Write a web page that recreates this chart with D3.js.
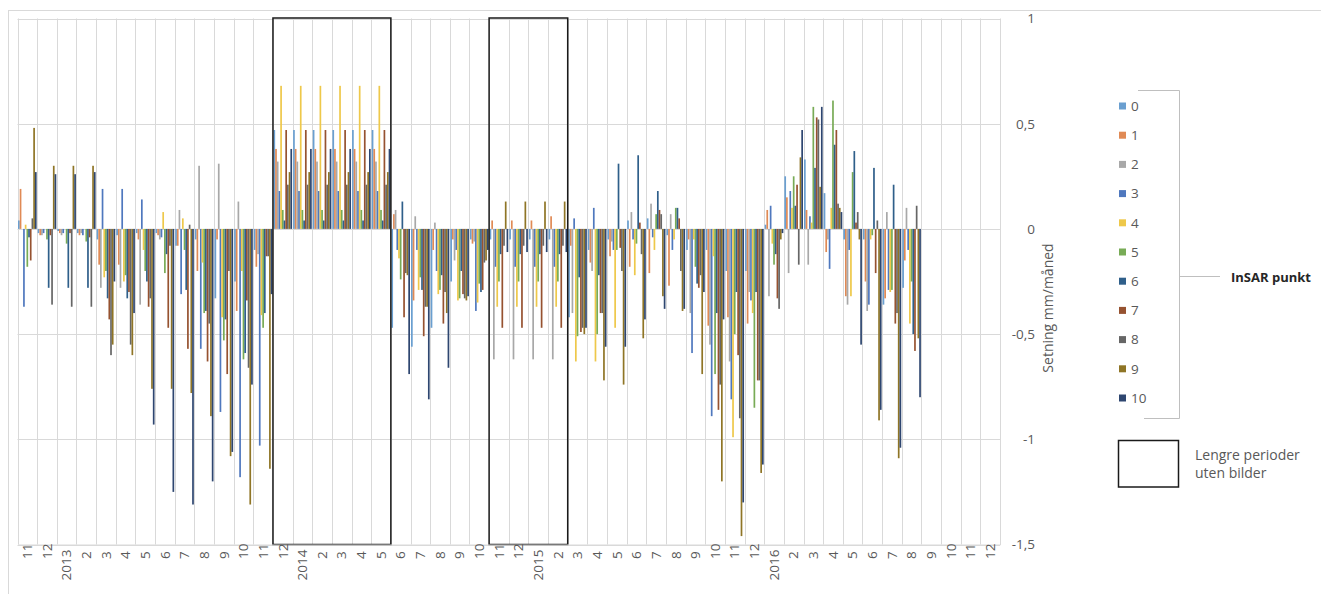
<!DOCTYPE html>
<html>
<head>
<meta charset="utf-8">
<script src="https://d3js.org/d3.v7.min.js"></script>
<style>
  body { margin: 0; background: #fff; }
  svg { font-family: "Open Sans", "Liberation Sans", sans-serif; }
</style>
</head>
<body>
<svg id="chart" width="1321" height="594"></svg>
<script>
// month labels along the bottom (Nov 2012 - Dec 2016)
const monthLabels = ["11","12","2013","2","3","4","5","6","7","8","9","10",
  "11","12","2014","2","3","4","5","6","7","8","9","10",
  "11","12","2015","2","3","4","5","6","7","8","9","10",
  "11","12","2016","2","3","4","5","6","7","8","9","10","11","12"];

// setning mm/måned per InSAR punkt
const p0 = [0.04,-0.02,-0.01,-0.02,-0.05,-0.03,-0.02,-0.02,-0.08,-0.05,
  -0.33,-0.25,-0.10,0.47,0.47,0.47,0.47,0.47,0.47,-0.47,
  -0.56,-0.47,-0.25,-0.05,-0.05,-0.05,-0.05,-0.05,-0.42,-0.10,
  -0.05,0.04,0.05,-0.03,-0.10,-0.10,-0.20,-0.20,0.02,0.25,
  0.33,0.17,-0.05,-0.05,-0.36,-0.28,null,null,null,null];
const p1 = [0.19,-0.03,-0.02,-0.03,-0.17,-0.17,-0.05,-0.03,-0.08,-0.20,
  -0.05,-0.39,-0.18,0.38,0.38,0.38,0.38,0.38,0.38,0.07,
  -0.34,-0.10,-0.05,-0.07,0.04,0.04,0.04,0.06,-0.08,-0.16,
  -0.13,-0.18,-0.21,-0.27,-0.05,-0.46,-0.42,-0.45,0.09,0.15,
  0.09,-0.11,-0.32,-0.25,-0.33,-0.15,null,null,null,null];
const p2 = [0.00,-0.03,-0.03,-0.02,-0.28,-0.28,-0.36,-0.05,0.09,0.30,
  0.31,0.13,-0.12,0.32,0.32,0.32,0.32,0.32,0.32,0.09,
  0.06,0.03,-0.15,-0.06,-0.62,-0.62,-0.62,-0.62,-0.40,-0.20,
  -0.06,0.08,0.12,0.07,-0.40,-0.55,-0.63,-0.30,-0.32,-0.21,
  -0.17,-0.05,-0.36,-0.39,0.08,0.10,null,null,null,null];
const p3 = [-0.37,-0.02,-0.02,-0.03,0.19,0.19,0.14,-0.04,-0.31,-0.57,
  -0.87,-1.18,-1.03,0.18,0.18,0.18,0.18,0.18,0.18,-0.10,
  -0.10,-0.20,-0.10,-0.39,-0.18,-0.18,-0.18,-0.18,0.05,0.10,
  -0.10,-0.05,-0.04,-0.10,-0.59,-0.89,-0.81,-0.34,0.11,0.18,
  0.06,-0.19,-0.10,-0.36,-0.29,-0.10,null,null,null,null];
const p4 = [0.02,0.00,0.00,0.00,-0.23,-0.25,-0.10,0.08,0.05,-0.16,
  -0.42,-0.20,-0.41,0.68,0.68,0.68,0.68,0.68,0.68,-0.14,
  -0.29,-0.31,-0.34,-0.35,-0.37,-0.37,-0.37,-0.37,-0.63,-0.63,
  -0.47,-0.22,-0.10,-0.05,-0.05,-0.13,-0.99,-0.40,-0.07,0.10,
  0.03,0.10,-0.32,-0.05,-0.30,-0.45,null,null,null,null];
const p5 = [-0.18,-0.05,-0.07,-0.06,-0.20,-0.22,-0.20,-0.21,-0.10,-0.40,
  -0.53,-0.62,-0.47,0.09,0.09,0.09,0.09,0.09,0.09,-0.24,
  -0.23,-0.29,-0.33,-0.26,-0.25,-0.25,-0.25,-0.25,-0.51,-0.50,
  -0.10,-0.07,0.07,0.10,-0.18,-0.69,-0.50,-0.85,-0.17,0.25,
  0.58,0.61,0.27,-0.03,-0.29,-0.25,null,null,null,null];
const p6 = [-0.04,-0.28,-0.28,-0.28,-0.33,-0.33,-0.25,-0.12,-0.29,-0.39,
  -0.43,-0.59,-0.40,0.04,0.04,0.04,0.04,0.04,0.04,0.13,
  -0.29,-0.22,-0.20,-0.30,-0.12,-0.12,-0.12,-0.12,-0.23,-0.22,
  0.31,0.35,0.18,0.10,-0.26,-0.40,-0.30,-0.30,-0.12,0.11,
  0.29,0.40,0.37,0.29,0.21,-0.50,null,null,null,null];
const p7 = [-0.15,-0.03,-0.02,-0.04,-0.43,-0.30,-0.37,-0.47,-0.57,-0.63,
  -0.69,-0.34,-0.13,0.47,0.47,0.47,0.47,0.47,0.47,-0.42,
  -0.51,-0.45,-0.31,-0.29,-0.47,-0.47,-0.47,-0.47,-0.49,-0.40,
  -0.09,0.03,0.09,0.05,-0.28,-0.86,-0.60,-0.72,-0.33,0.21,
  0.53,0.47,0.03,-0.21,-0.45,-0.58,null,null,null,null];
const p8 = [0.05,-0.36,-0.37,-0.37,-0.60,-0.55,-0.33,-0.08,0.02,-0.45,
  -0.20,-0.66,-0.13,0.21,0.21,0.21,0.21,0.21,0.21,-0.21,
  -0.37,-0.30,-0.33,-0.16,-0.08,-0.08,-0.08,-0.08,-0.47,-0.40,
  -0.20,-0.12,0.07,-0.20,-0.22,-0.74,-0.90,-0.72,-0.38,-0.17,
  0.52,0.12,0.08,0.04,-0.40,0.11,null,null,null,null];
const p9 = [0.48,0.30,0.30,0.30,-0.55,-0.60,-0.76,-0.76,-0.78,-0.89,
  -1.08,-1.31,-1.14,0.27,0.27,0.27,0.27,0.27,0.27,-0.22,
  -0.37,-0.40,-0.34,-0.15,0.13,0.13,0.13,0.13,-0.50,-0.72,
  -0.74,-0.52,-0.32,-0.39,-0.69,-1.20,-1.46,-1.16,-0.05,0.34,
  0.20,0.10,-0.05,-0.91,-1.09,-0.52,null,null,null,null];
const p10 = [0.27,0.26,0.26,0.27,-0.25,-0.40,-0.93,-1.25,-1.31,-1.20,
  -1.06,-0.74,-0.31,0.38,0.38,0.38,0.38,0.38,0.38,-0.69,
  -0.81,-0.66,-0.32,-0.10,-0.11,-0.11,-0.11,-0.11,-0.47,-0.56,
  -0.56,-0.43,-0.38,-0.38,-0.30,-0.43,-1.30,-1.12,-0.02,0.47,
  0.58,0.08,-0.55,-0.86,-1.04,-0.80,null,null,null,null];

const seriesNames = ["0","1","2","3","4","5","6","7","8","9","10"];
const seriesColors = ["#6a9fd0","#e08a55","#a8a8a8","#4f78be","#eec84a","#78ab56",
  "#2f5f8a","#965230","#666666","#8f7526","#2e4670"];
const yTicks = [1, 0.5, 0, -0.5, -1, -1.5];
// periods without images: [first month index, month index after the period]
const gapPeriods = [[13, 19], [24, 28]];

const series = [p0,p1,p2,p3,p4,p5,p6,p7,p8,p9,p10];
const textColor = "#595959";
const gridColor = "#d9d9d9";

const svg = d3.select("#chart");

// chart frame
svg.append("rect")
  .attr("x", 8.5).attr("y", 10.5)
  .attr("width", 1330).attr("height", 600)
  .attr("fill", "none").attr("stroke", gridColor);

const plot = { left: 17.5, right: 1000, top: 18.5, bottom: 544.5 };

const x = d3.scaleBand()
  .domain(d3.range(monthLabels.length))
  .range([plot.left, plot.right])
  .padding(0);

const xInner = d3.scaleBand()
  .domain(d3.range(series.length))
  .range([0, x.bandwidth()])
  .paddingInner(0)
  .paddingOuter(0.3);

const y = d3.scaleLinear()
  .domain([-1.5, 1])
  .range([plot.bottom, plot.top]);

// gridlines
const grid = svg.append("g");
grid.selectAll("line.h")
  .data(yTicks)
  .enter().append("line")
  .attr("x1", plot.left).attr("x2", plot.right)
  .attr("y1", d => Math.round(y(d)) + 0.5).attr("y2", d => Math.round(y(d)) + 0.5)
  .attr("stroke", gridColor);

grid.selectAll("line.v")
  .data(d3.range(monthLabels.length + 1))
  .enter().append("line")
  .attr("x1", i => Math.round(i < monthLabels.length ? x(i) : plot.right) + 0.5)
  .attr("x2", i => Math.round(i < monthLabels.length ? x(i) : plot.right) + 0.5)
  .attr("y1", plot.top).attr("y2", plot.bottom)
  .attr("stroke", gridColor);

// bars
const barGroups = svg.append("g")
  .selectAll("g")
  .data(series)
  .enter().append("g")
  .attr("fill", (d, s) => seriesColors[s]);

barGroups.selectAll("rect")
  .data((d, s) => d.map((v, i) => ({ v, i, s })).filter(e => e.v !== null))
  .enter().append("rect")
  .attr("x", e => x(e.i) + xInner(e.s))
  .attr("width", xInner.bandwidth())
  .attr("y", e => y(Math.max(0, e.v)))
  .attr("height", e => Math.abs(y(e.v) - y(0)));

// boxes marking long periods without images
svg.append("g")
  .selectAll("rect")
  .data(gapPeriods)
  .enter().append("rect")
  .attr("x", d => x(d[0]))
  .attr("y", plot.top - 0.5)
  .attr("width", d => x(d[1]) - x(d[0]))
  .attr("height", plot.bottom - plot.top + 0.5)
  .attr("fill", "none")
  .attr("stroke", "#1a1a1a")
  .attr("stroke-width", 1.5);

// y axis on the right
const yAxis = svg.append("g")
  .attr("transform", `translate(${plot.right},0)`)
  .call(d3.axisRight(y).tickValues(yTicks).tickSize(0)
    .tickFormat(d => String(d).replace(".", ",")));
yAxis.select(".domain").attr("stroke", gridColor);
yAxis.selectAll("text")
  .attr("x", 35)
  .attr("text-anchor", "end")
  .attr("fill", textColor)
  .style("font-size", "13.5px")
  .style("font-family", "'Open Sans', 'Liberation Sans', sans-serif");

svg.append("text")
  .attr("transform", "translate(1053,308) rotate(-90)")
  .attr("text-anchor", "middle")
  .attr("fill", textColor)
  .style("font-size", "14px")
  .text("Setning mm/måned");

// x axis month labels
const xAxis = svg.append("g")
  .attr("transform", `translate(0,${plot.bottom})`)
  .call(d3.axisBottom(x).tickSize(0).tickFormat(i => monthLabels[i]));
xAxis.select(".domain").attr("stroke", gridColor);
xAxis.selectAll("text")
  .attr("transform", "rotate(-90)")
  .attr("text-anchor", "start")
  .attr("y", 0)
  .attr("dy", "0.35em")
  .attr("x", i => monthLabels[i].length === 4 ? -36 : -14.5)
  .attr("fill", textColor)
  .style("font-size", "13.5px")
  .style("font-family", "'Open Sans', 'Liberation Sans', sans-serif");

// legend
const legend = svg.append("g");
const legendItem = legend.selectAll("g")
  .data(seriesNames)
  .enter().append("g")
  .attr("transform", (d, i) => `translate(1119,${106 + i * 29.2})`);

legendItem.append("rect")
  .attr("x", 0).attr("y", -3.5)
  .attr("width", 7).attr("height", 7)
  .attr("fill", (d, i) => seriesColors[i]);

legendItem.append("text")
  .attr("x", 12).attr("y", 0).attr("dy", "0.35em")
  .attr("fill", textColor)
  .style("font-size", "13.5px")
  .text(d => d);

// bracket grouping the legend
const bracket = svg.append("g").attr("stroke", "#bfbfbf").attr("fill", "none");
bracket.append("path").attr("d", "M1138,90.5H1179.5V418.5H1144");
bracket.append("path").attr("d", "M1179.5,276.5H1220");
svg.append("text")
  .attr("x", 1231).attr("y", 277).attr("dy", "0.35em")
  .attr("fill", "#262626")
  .style("font-size", "13px")
  .style("font-weight", "bold")
  .text("InSAR punkt");

// legend box for periods without images
svg.append("rect")
  .attr("x", 1118.5).attr("y", 440.5)
  .attr("width", 60).attr("height", 46.5)
  .attr("fill", "none")
  .attr("stroke", "#1a1a1a")
  .attr("stroke-width", 1.5);
svg.append("text")
  .attr("x", 1195).attr("y", 455).attr("dy", "0.35em")
  .attr("fill", textColor)
  .style("font-size", "14px")
  .text("Lengre perioder");
svg.append("text")
  .attr("x", 1195).attr("y", 473).attr("dy", "0.35em")
  .attr("fill", textColor)
  .style("font-size", "14px")
  .text("uten bilder");
</script>
</body>
</html>
